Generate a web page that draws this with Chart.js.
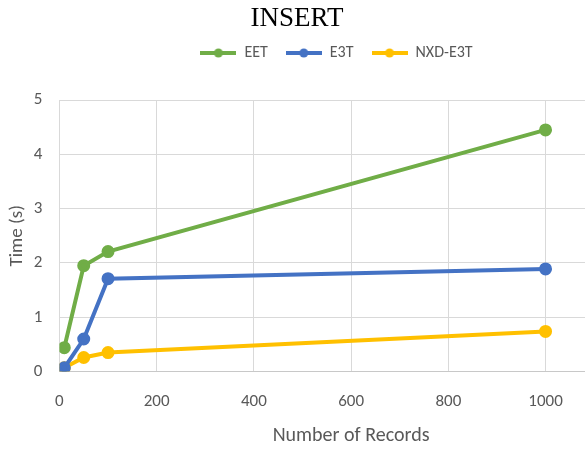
<!DOCTYPE html>
<html>
<head>
<meta charset="utf-8">
<script src="https://cdn.jsdelivr.net/npm/chart.js@4/dist/chart.umd.min.js"></script>
<style>
  html, body { margin: 0; padding: 0; background: #fff; overflow: hidden; }
  #wrap { position: relative; width: 680px; height: 450px; }
  #title {
    position: absolute; top: 4px; left: 0; width: 594px;
    text-align: center; font: 27px/1 'Liberation Serif', 'Times New Roman', serif; color: #000;
  }
</style>
</head>
<body>
<div id="wrap">
  <canvas id="chart" width="680" height="450"></canvas>
  <div id="title">INSERT</div>
</div>
<script>
// Datos
const records = [10, 50, 100, 1000];
const eet     = [0.44, 1.95, 2.21, 4.45];
const e3t     = [0.07, 0.60, 1.71, 1.89];
const nxdE3t  = [0.07, 0.26, 0.35, 0.74];

const seriesNames  = ['EET', 'E3T', 'NXD-E3T'];
const seriesColors = ['#70AD47', '#4472C4', '#FFC000'];
const seriesData   = [eet, e3t, nxdE3t];

const FONT = "Carlito, Lato, sans-serif";
const GREY = '#595959';

// Icono de leyenda: línea con círculo
function legendIcon(color) {
  const c = document.createElement('canvas');
  c.width = 36; c.height = 12;
  const g = c.getContext('2d');
  g.strokeStyle = color; g.lineWidth = 4;
  g.beginPath(); g.moveTo(0, 6); g.lineTo(36, 6); g.stroke();
  g.fillStyle = color;
  g.beginPath(); g.arc(18, 6, 4.5, 0, Math.PI * 2); g.fill();
  return c;
}
const icons = seriesColors.map(legendIcon);

const datasets = seriesNames.map((name, i) => ({
  label: name,
  data: records.map((x, j) => ({ x, y: seriesData[i][j] })),
  borderColor: seriesColors[i],
  backgroundColor: seriesColors[i],
  borderWidth: 4,
  pointRadius: 4.5,
  pointHoverRadius: 4.5,
  tension: 0
}));

// Más espacio debajo de la leyenda
const legendGap = {
  id: 'legendGap',
  beforeInit(chart) {
    const fit = chart.legend.fit;
    chart.legend.fit = function () {
      fit.call(this);
      this.height += 29;
    };
  }
};

new Chart(document.getElementById('chart'), {
  type: 'line',
  data: { datasets },
  plugins: [legendGap],
  options: {
    responsive: false,
    animation: false,
    layout: { padding: { top: 27, left: 0, right: 7, bottom: 0 } },
    plugins: {
      tooltip: { enabled: false },
      legend: {
        position: 'top',
        labels: {
          usePointStyle: true,
          pointStyleWidth: 36,
          padding: 18,
          color: GREY,
          font: { family: FONT, size: 16 },
          generateLabels(chart) {
            const items = Chart.defaults.plugins.legend.labels.generateLabels(chart);
            items.forEach((it, i) => { it.pointStyle = icons[i]; });
            return items;
          }
        }
      }
    },
    scales: {
      x: {
        type: 'linear',
        min: 0, max: 1200,
        ticks: {
          stepSize: 200, color: GREY, font: { family: FONT, size: 17 }, padding: 20,
          callback: v => String(v)
        },
        grid: { color: '#d9d9d9', drawTicks: false },
        border: { color: '#c8c8c8' },
        title: {
          display: true, text: 'Number of Records', color: GREY,
          font: { family: FONT, size: 20 }, padding: { top: -8, bottom: 2 }
        }
      },
      y: {
        min: 0, max: 5,
        ticks: { stepSize: 1, color: GREY, font: { family: FONT, size: 17 }, padding: 17 },
        grid: { color: '#d9d9d9', drawTicks: false },
        border: { color: '#d9d9d9' },
        title: {
          display: true, text: 'Time (s)', color: GREY,
          font: { family: FONT, size: 19 }, padding: { top: 6, bottom: -12 }
        }
      }
    }
  }
});
</script>
</body>
</html>
